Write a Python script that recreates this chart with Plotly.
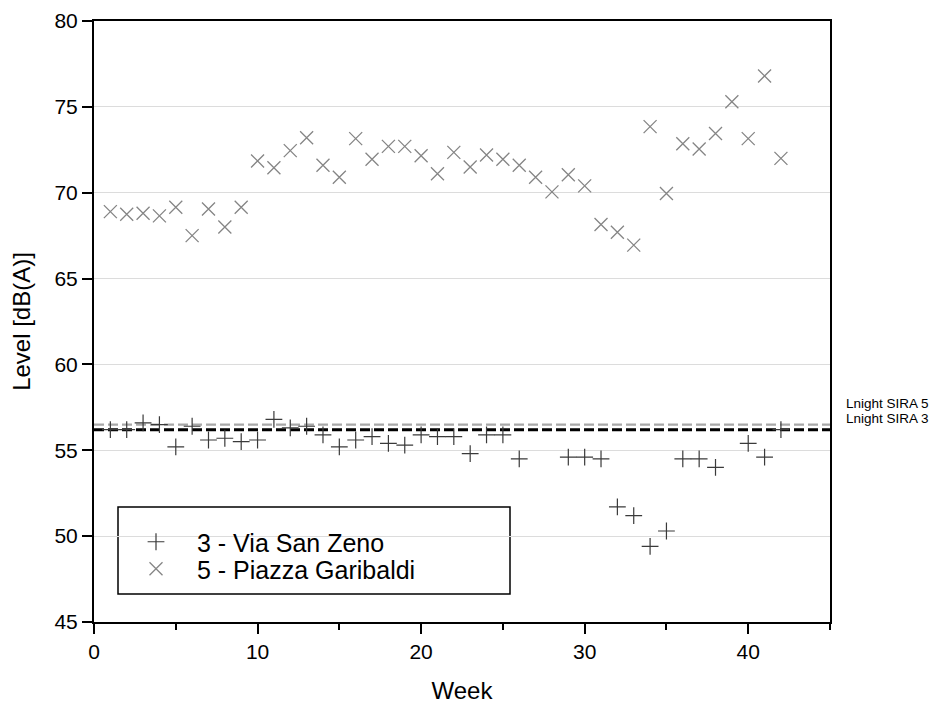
import plotly.graph_objects as go

# ---------------- data ----------------
weeks_zeno = [1, 2, 3, 4, 5, 6, 7, 8, 9, 10, 11, 12, 13, 14, 15, 16, 17, 18, 19, 20,
              21, 22, 23, 24, 25, 26, 29, 30, 31, 32, 33, 34, 35, 36, 37, 38, 40, 41, 42]
level_zeno = [56.2, 56.2, 56.6, 56.5, 55.2, 56.4, 55.6, 55.7, 55.5, 55.6, 56.8, 56.3, 56.4,
              55.9, 55.2, 55.6, 55.8, 55.4, 55.3, 55.9, 55.8, 55.8, 54.8, 55.9, 55.9, 54.5,
              54.6, 54.6, 54.5, 51.7, 51.2, 49.4, 50.3, 54.5, 54.5, 54.0, 55.4, 54.6, 56.2]

weeks_garibaldi = list(range(1, 43))
level_garibaldi = [68.9, 68.75, 68.8, 68.65, 69.15, 67.5, 69.05, 68.0, 69.15, 71.85,
                   71.45, 72.45, 73.2, 71.6, 70.9, 73.15, 71.95, 72.7, 72.7, 72.15,
                   71.1, 72.35, 71.5, 72.2, 71.95, 71.6, 70.9, 70.05, 71.05, 70.4,
                   68.15, 67.7, 66.95, 73.85, 69.95, 72.85, 72.55, 73.45, 75.3, 73.15,
                   76.8, 72.0]

limit_names = ["Lnight SIRA 5", "Lnight SIRA 3"]
limit_values = [56.5, 56.2]
limit_span = [0, 45]

x_ticks = [0, 10, 20, 30, 40]
y_ticks = [45, 50, 55, 60, 65, 70, 75, 80]

FONT = "Liberation Sans, Arial, sans-serif"

# layout geometry (figure pixels; the page itself adds an 8px body margin)
OFF = 8
W, H = 947 - 2 * OFF, 713 - 2 * OFF
L, T = 94 - OFF, 21 - OFF
R, B = W - (830 - OFF), H - (622 - OFF)
PW, PH = W - L - R, H - T - B


def px_x(x):
    # window pixel -> paper fraction
    return (x - OFF - L) / PW


def px_y(y):
    return (H - B - (y - OFF)) / PH


fig = go.Figure()

# reference lines
fig.add_trace(go.Scatter(
    x=limit_span, y=[limit_values[0]] * 2, mode="lines",
    line=dict(color="#a8a8a8", width=2.2, dash="10px,4px"),
    showlegend=False, hoverinfo="skip"))
fig.add_trace(go.Scatter(
    x=limit_span, y=[limit_values[1]] * 2, mode="lines",
    line=dict(color="black", width=3, dash="10px,4px"),
    showlegend=False, hoverinfo="skip"))

fig.add_trace(go.Scatter(
    x=weeks_zeno, y=level_zeno, mode="markers", name="3 - Via San Zeno",
    legend="legend",
    marker=dict(symbol="cross-thin", size=12, color="#3a3a3a",
                line=dict(color="#3a3a3a", width=1.2))))
fig.add_trace(go.Scatter(
    x=weeks_garibaldi, y=level_garibaldi, mode="markers", name="5 - Piazza Garibaldi",
    legend="legend2",
    marker=dict(symbol="x-thin", size=13, color="#858585",
                line=dict(color="#858585", width=1.3))))

# labels of the reference lines
for name, val, shift in zip(limit_names, limit_values, [21, 11]):
    fig.add_annotation(x=1, xref="paper", xanchor="left", xshift=14,
                       y=val, yref="y", yanchor="middle", yshift=shift,
                       text=name, showarrow=False,
                       font=dict(family=FONT, size=13.5, color="black"))

# legend frame
fig.add_shape(type="rect", xref="paper", yref="paper",
              x0=px_x(118), x1=px_x(510), y0=px_y(594), y1=px_y(507),
              line=dict(color="black", width=1.5), fillcolor="white", layer="below")

axis_common = dict(
    showline=True, linecolor="black", linewidth=2, mirror=True,
    ticks="outside", ticklen=10, tickwidth=2, tickcolor="black",
    tickfont=dict(family=FONT, size=21, color="black"),
    zeroline=False, automargin=False,
)

legend_common = dict(xanchor="left", yanchor="middle", bgcolor="rgba(0,0,0,0)",
                     borderwidth=0, itemwidth=72,
                     font=dict(family=FONT, size=25, color="black"))

fig.update_layout(
    width=W, height=H,
    margin=dict(l=L, r=R, t=T, b=B, autoexpand=False),
    paper_bgcolor="white", plot_bgcolor="white",
    font=dict(family=FONT, color="black"),
    xaxis=dict(range=[0, 45], tickvals=x_ticks, showgrid=False,
               minor=dict(tickvals=[5, 15, 25, 35, 45], ticks="outside", ticklen=6,
                          tickwidth=2, tickcolor="black", showgrid=False),
               title=dict(text="Week", font=dict(family=FONT, size=24), standoff=20),
               **axis_common),
    yaxis=dict(range=[45, 80], tickvals=y_ticks, showgrid=True,
               gridcolor="#dcdcdc", gridwidth=1,
               title=dict(text="Level [dB(A)]", font=dict(family=FONT, size=24), standoff=22),
               **axis_common),
    legend=dict(x=px_x(115), y=px_y(542), **legend_common),
    legend2=dict(x=px_x(115), y=px_y(569), **legend_common),
)

fig.write_html("out.html")
